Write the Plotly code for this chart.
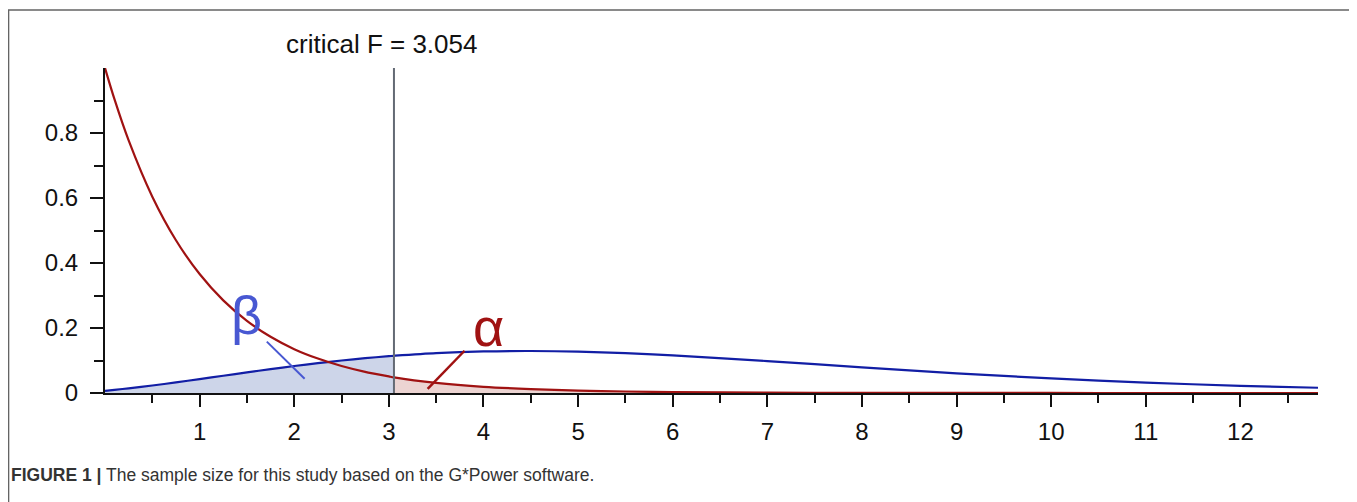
import plotly.graph_objects as go

# ---------------- data ----------------
CRIT_F = 3.054
CRIT_LABEL = "critical F = 3.054"

# F values on the x axis
f_values = [0, 0.1, 0.25, 0.5, 0.75, 1, 1.25, 1.5, 1.75, 2, 2.25, 2.5, 2.75, 3,
            3.054, 3.5, 4, 4.5, 5, 5.5, 6, 7, 8, 9, 10, 11, 12, 12.82]

# central F density (H0, red curve)
h0_density = [1.0, 0.904, 0.777, 0.604, 0.470, 0.366, 0.285, 0.222, 0.173, 0.135,
              0.106, 0.083, 0.065, 0.051, 0.048, 0.031, 0.019, 0.012, 0.0074, 0.0046,
              0.0029, 0.0011, 0.0004, 0.0002, 0.0001, 0.0, 0.0, 0.0]

# non-central F density (H1, blue curve)
h1_density = [0.0065, 0.0096, 0.0143, 0.0230, 0.0326, 0.0427, 0.0530, 0.0633, 0.0734,
              0.0830, 0.0918, 0.1000, 0.1072, 0.1134, 0.1145, 0.1226, 0.1278, 0.1292,
              0.1272, 0.1224, 0.1157, 0.0982, 0.0790, 0.0606, 0.0448, 0.0320, 0.0222,
              0.0162]

x_tick_vals = [1, 2, 3, 4, 5, 6, 7, 8, 9, 10, 11, 12]
x_tick_text = ["1", "2", "3", "4", "5", "6", "7", "8", "9", "10", "11", "12"]
x_minor_vals = [0.5, 1.5, 2.5, 3.5, 4.5, 5.5, 6.5, 7.5, 8.5, 9.5, 10.5, 11.5, 12.5]
y_tick_vals = [0, 0.2, 0.4, 0.6, 0.8]
y_tick_text = ["0", "0.2", "0.4", "0.6", "0.8"]
y_minor_vals = [0.1, 0.3, 0.5, 0.7, 0.9]

CAPTION = "<b>FIGURE 1 |</b> The sample size for this study based on the G*Power software."

# ---------------- styling ----------------
RED = "rgb(160,18,18)"
BLUE = "rgb(18,30,165)"
BETA_COLOR = "rgb(72,88,210)"
ALPHA_COLOR = "rgb(160,18,18)"
BLUE_FILL = "rgb(205,213,233)"
RED_FILL = "rgb(236,212,210)"
FONT = "Liberation Sans, Arial, Helvetica, sans-serif"

beta_x = [x for x in f_values if x <= CRIT_F]
beta_y = [y for x, y in zip(f_values, h1_density) if x <= CRIT_F]
alpha_x = [x for x in f_values if x >= CRIT_F]
alpha_y = [y for x, y in zip(f_values, h0_density) if x >= CRIT_F]

fig = go.Figure()
fig.add_trace(go.Scatter(x=beta_x, y=beta_y, mode="lines", fill="tozeroy",
                         fillcolor=BLUE_FILL, line=dict(width=0, shape="spline"),
                         hoverinfo="skip", showlegend=False))
fig.add_trace(go.Scatter(x=alpha_x, y=alpha_y, mode="lines", fill="tozeroy",
                         fillcolor=RED_FILL, line=dict(width=0, shape="spline"),
                         hoverinfo="skip", showlegend=False))
fig.add_trace(go.Scatter(x=f_values, y=h1_density, mode="lines",
                         line=dict(color=BLUE, width=2.2, shape="spline", smoothing=0.8),
                         showlegend=False))
fig.add_trace(go.Scatter(x=f_values, y=h0_density, mode="lines",
                         line=dict(color=RED, width=2.2, shape="spline", smoothing=0.8),
                         showlegend=False))

# critical value line
fig.add_shape(type="line", x0=CRIT_F, x1=CRIT_F, y0=0, y1=1.0, xref="x", yref="y",
              line=dict(color="rgb(100,106,116)", width=2))

# pointer lines for beta and alpha
fig.add_shape(type="line", x0=1.71, y0=0.158, x1=2.11, y1=0.044, xref="x", yref="y",
              line=dict(color=BETA_COLOR, width=2))
fig.add_shape(type="line", x0=3.80, y0=0.130, x1=3.41, y1=0.013, xref="x", yref="y",
              line=dict(color=ALPHA_COLOR, width=2.5))

# frame border (figure panel)
fig.add_shape(type="rect", xref="paper", yref="paper",
              x0=-0.0795, x1=1.0305, y0=-0.40, y1=1.1785,
              line=dict(color="rgb(100,100,100)", width=1.5), layer="below")

fig.add_annotation(x=CRIT_F, y=1.074, xref="x", yref="paper", text=CRIT_LABEL,
                   showarrow=False, xshift=-12, yanchor="middle",
                   font=dict(family=FONT, size=26, color="#111"))
fig.add_annotation(x=1.50, y=0.241, xref="x", yref="y", text="β", showarrow=False,
                   yanchor="middle", font=dict(family=FONT, size=54, color=BETA_COLOR))
fig.add_annotation(x=4.05, y=0.202, xref="x", yref="y", text="α", showarrow=False,
                   yanchor="middle", font=dict(family=FONT, size=54, color=ALPHA_COLOR))
fig.add_annotation(x=-0.079, y=-0.251, xref="paper", yref="paper", text=CAPTION,
                   showarrow=False, xanchor="left", yanchor="middle",
                   font=dict(family=FONT, size=17.5, color="#333"))

fig.update_xaxes(range=[0, 12.82], tickmode="array", tickvals=x_tick_vals,
                 ticktext=x_tick_text, ticks="outside", ticklen=12, tickwidth=2,
                 tickcolor="#111", showline=True, linecolor="#111", linewidth=2,
                 showgrid=False, zeroline=False, ticklabelstandoff=4,
                 tickfont=dict(family=FONT, size=24, color="#111"),
                 minor=dict(tickmode="array", tickvals=x_minor_vals, ticks="outside",
                            ticklen=8, tickwidth=2, tickcolor="#111", showgrid=False))
fig.update_yaxes(range=[0, 1.0], tickmode="array", tickvals=y_tick_vals,
                 ticktext=y_tick_text, ticks="outside", ticklen=13, tickwidth=2,
                 tickcolor="#111", showline=True, linecolor="#111", linewidth=2,
                 showgrid=False, zeroline=False, ticklabelstandoff=7,
                 tickfont=dict(family=FONT, size=24, color="#111"),
                 minor=dict(tickmode="array", tickvals=y_minor_vals, ticks="outside",
                            ticklen=9, tickwidth=2, tickcolor="#111", showgrid=False))

# the page body adds an 8px offset, so the figure is sized/margined to compensate
fig.update_layout(width=1349, height=494, margin=dict(l=97, r=39, t=60, b=109),
                  plot_bgcolor="white", paper_bgcolor="white", showlegend=False)

fig.write_html("out.html")
